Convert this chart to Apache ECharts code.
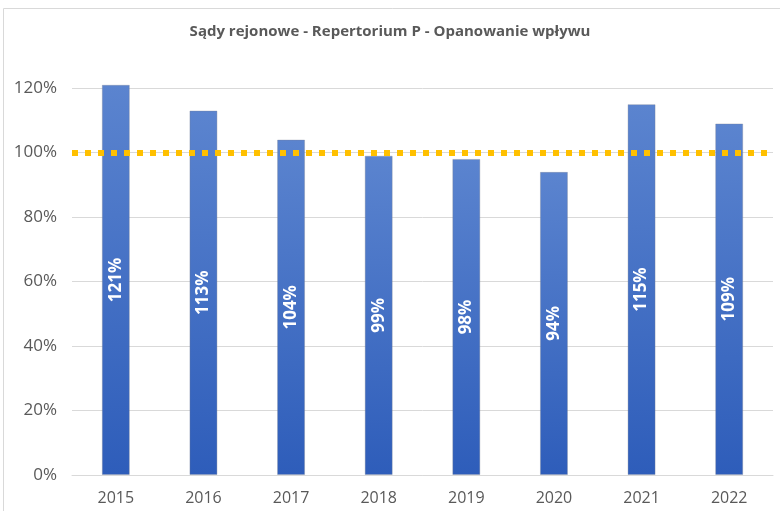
<!DOCTYPE html>
<html>
<head>
<meta charset="utf-8">
<script src="https://cdn.jsdelivr.net/npm/echarts@6/dist/echarts.min.js"></script>
<style>
  html, body { margin: 0; padding: 0; background: #fff; }
  #chart { width: 780px; height: 511px; }
</style>
</head>
<body>
<div id="chart"></div>
<script>
// dane z wykresu
var years = ['2015', '2016', '2017', '2018', '2019', '2020', '2021', '2022'];
var ratio = [1.21, 1.13, 1.04, 0.99, 0.98, 0.94, 1.15, 1.09];
var target = 1.0;

var myChart = echarts.init(document.getElementById('chart'));
var font = '"Open Sans", "Liberation Sans", sans-serif';

var option = {
  animation: false,
  textStyle: { fontFamily: font },
  title: {
    text: 'Sądy rejonowe - Repertorium P - Opanowanie wpływu',
    left: 'center',
    top: 19,
    textStyle: { fontSize: 15, fontWeight: 'bold', color: '#595959', fontFamily: font }
  },
  graphic: [{
    type: 'rect',
    silent: true,
    shape: { x: 3.5, y: 8.5, width: 800, height: 600 },
    style: { fill: 'none', stroke: '#d9d9d9', lineWidth: 1 }
  }],
  grid: { left: 72, right: 7, top: 88, bottom: 36 },
  xAxis: {
    type: 'category',
    data: years,
    axisTick: { show: false },
    axisLine: { lineStyle: { color: '#d9d9d9' } },
    axisLabel: { color: '#595959', fontSize: 16, margin: 15, fontFamily: font }
  },
  yAxis: {
    type: 'value',
    min: 0,
    max: 1.2,
    interval: 0.2,
    axisLine: { show: false },
    axisTick: { show: false },
    splitLine: { lineStyle: { color: '#d9d9d9' } },
    axisLabel: {
      color: '#595959', fontSize: 17, margin: 15, fontFamily: font,
      formatter: function (v) { return Math.round(v * 100) + '%'; }
    }
  },
  series: [{
    type: 'bar',
    data: ratio,
    barWidth: 28,
    clip: false,
    itemStyle: {
      color: new echarts.graphic.LinearGradient(0, 0, 0, 1, [
        { offset: 0, color: '#5b84cf' },
        { offset: 1, color: '#2e5dba' }
      ]),
      borderColor: 'rgba(120,130,150,0.35)',
      borderWidth: 1
    },
    label: {
      show: true,
      position: 'inside',
      rotate: 90,
      color: '#fff',
      fontSize: 17,
      fontWeight: 'bold',
      fontFamily: font,
      formatter: function (p) { return Math.round(p.value * 100) + '%'; }
    },
    markLine: {
      silent: true,
      symbol: ['none', 'none'],
      label: { show: false },
      lineStyle: { color: '#ffc000', width: 6, type: [6, 7] },
      data: [{ yAxis: target }]
    }
  }]
};

myChart.setOption(option);

window.onresize = function () {
  myChart.resize();
};
</script>
</body>
</html>
